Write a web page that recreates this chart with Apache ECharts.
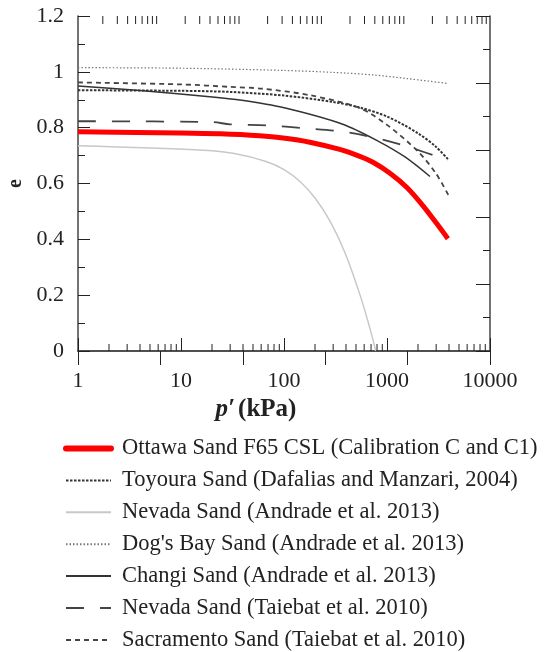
<!DOCTYPE html>
<html>
<head>
<meta charset="utf-8">
<script src="https://cdn.jsdelivr.net/npm/echarts@6/dist/echarts.min.js"></script>
<style>html,body{margin:0;padding:0;background:#fff}#c{width:545px;height:652px}</style>
</head>
<body>
<div id="c"></div>
<script>
// ---- data: [p' (kPa), e] ----
var ottawa = [[1,0.785],[10,0.781],[24,0.778],[58,0.771],[98,0.763],[178,0.748],[348,0.722],[545,0.697],[731,0.676],[1069,0.637],[1560,0.586],[2230,0.521],[3250,0.442],[3900,0.402]];
var toyoura = [[1,0.934],[10,0.932],[30,0.928],[100,0.915],[300,0.892],[545,0.872],[1000,0.84],[2000,0.78],[3000,0.731],[3950,0.685]];
var nevadaAndrade = [[1,0.735],[15,0.720],[32,0.708],[68,0.678],[102,0.648],[143,0.607],[200,0.548],[280,0.465],[391,0.352],[547,0.201],[684,0.080],[777,0.0]];
var dogsBay = [[1,1.015],[10,1.013],[100,1.005],[300,0.998],[730,0.989],[1560,0.976],[3950,0.958]];
var changi = [[1,0.949],[4,0.933],[19,0.911],[39,0.898],[98,0.872],[366,0.813],[818,0.752],[1496,0.695],[2614,0.625]];
var nevadaTaiebat = [[1,0.823],[20,0.82],[30,0.812],[70,0.808],[155,0.798],[350,0.787],[810,0.762],[1650,0.73],[3900,0.683]];
var sacramento = [[1,0.962],[10,0.955],[30,0.946],[60,0.94],[180,0.916],[545,0.87],[1000,0.81],[2000,0.715],[3000,0.635],[3950,0.558]];

var seriesNames = [
  'Ottawa Sand F65 CSL (Calibration C and C1)',
  'Toyoura Sand (Dafalias and Manzari, 2004)',
  'Nevada Sand (Andrade et al. 2013)',
  "Dog's Bay Sand (Andrade et al. 2013)",
  'Changi Sand (Andrade et al. 2013)',
  'Nevada Sand (Taiebat et al. 2010)',
  'Sacramento Sand (Taiebat et al. 2010)'
];
var xTickLabels = ['1','10','100','1000','10000'];
// minor tick values (2..9 per decade)
var bottomMinorTicks = [2,3,4,5,6,7,8,9,20,30,40,50,60,70,80,90,200,300,400,500,600,700,800,900,2000,3000,4000,5000,6000,7000,8000,9000];
var topMinorTicks = bottomMinorTicks.concat([20000,30000,40000,50000,60000,70000,80000,90000]);

var FONT = '"Liberation Serif","Times New Roman",serif';
var AX = '#444';

function tickSeries(xi, ticks, atTop) {
  return {
    type: 'custom', xAxisIndex: xi, yAxisIndex: 0, silent: true, z: 5,
    data: ticks.map(function (v) { return [v]; }),
    encode: { x: 0 },
    renderItem: function (params, api) {
      var v = api.value(0);
      var p = api.coord([v, atTop ? 1.2 : 0]);
      var L = atTop ? 8 : 7;
      return {
        type: 'line',
        shape: { x1: p[0], y1: p[1], x2: p[0], y2: atTop ? p[1] + L : p[1] - L },
        style: { stroke: '#222', lineWidth: 1 }
      };
    }
  };
}

var legendData = seriesNames.map(function (n, i) {
  return i === 0 ? { name: n, lineStyle: { width: 6, cap: 'round' } } : { name: n };
});

var chart = echarts.init(document.getElementById('c'), null, { renderer: 'canvas' });
chart.setOption({
  animation: false,
  backgroundColor: '#fff',
  textStyle: { fontFamily: FONT },
  grid: { left: 78, right: 55, top: 16, bottom: 301, containLabel: false, outerBoundsMode: 'none' },
  legend: {
    orient: 'vertical', left: 63, top: 437, height: 260, padding: 0,
    itemWidth: 45, itemHeight: 14, itemGap: 8.9,
    itemStyle: { opacity: 0 },
    data: legendData,
    textStyle: { fontFamily: FONT, fontSize: 22.5, color: '#222', padding: [0, 0, 0, 6] }
  },
  xAxis: [{
    type: 'log', logBase: 10, min: 1, max: 10000, position: 'bottom',
    axisLine: { show: true, lineStyle: { color: AX, width: 1.5 } },
    axisTick: { show: true, inside: true, length: 13, lineStyle: { color: '#222' } },
    axisLabel: { fontSize: 22, color: '#222', margin: 19, fontFamily: FONT,
      formatter: function (v) { var i = Math.round(Math.log10(v)); return xTickLabels[i]; } },
    splitLine: { show: false },
    name: '{i|p′} {b|(kPa)}', nameLocation: 'middle', nameGap: 42,
    nameTextStyle: { padding: [0, 56, 0, 0], rich: {
      i: { fontStyle: 'italic', fontWeight: 'bold', fontSize: 25, fontFamily: FONT, color: '#222' },
      b: { fontWeight: 'bold', fontSize: 25, fontFamily: FONT, color: '#222' } } }
  }, {
    type: 'log', logBase: 10, min: 1, max: 100000, position: 'top',
    axisLine: { show: true, lineStyle: { color: AX, width: 1.5 } },
    axisTick: { show: true, inside: true, length: 14, lineStyle: { color: '#222' } },
    axisLabel: { show: false }, splitLine: { show: false }
  }],
  yAxis: [{
    type: 'value', min: 0, max: 1.2, interval: 0.2, position: 'left',
    axisLine: { show: true, lineStyle: { color: AX, width: 1.5 } },
    axisTick: { show: true, inside: true, length: 12, lineStyle: { color: '#222' } },
    minorTick: { show: true, splitNumber: 2, length: 7, lineStyle: { color: '#222' } },
    axisLabel: { fontSize: 22, color: '#222', margin: 14, fontFamily: FONT },
    splitLine: { show: false },
    name: 'e', nameLocation: 'middle', nameGap: 47, nameRotate: 90,
    nameTextStyle: { fontWeight: 'bold', fontSize: 20, fontFamily: FONT, color: '#222' }
  }, {
    type: 'value', min: 0, max: 10, interval: 2, position: 'right',
    axisLine: { show: true, lineStyle: { color: AX, width: 1.5 } },
    axisTick: { show: true, inside: true, length: 14, lineStyle: { color: '#222' } },
    minorTick: { show: true, splitNumber: 2, length: 7, lineStyle: { color: '#222' } },
    axisLabel: { show: false }, splitLine: { show: false }
  }],
  series: [
    { name: seriesNames[0], type: 'line', data: ottawa, smooth: 0.3, symbol: 'none', z: 4,
      lineStyle: { color: '#ff0000', width: 5 }, itemStyle: { color: '#ff0000' } },
    { name: seriesNames[1], type: 'line', data: toyoura, smooth: 0.3, symbol: 'none',
      lineStyle: { color: '#333', width: 2, type: [2.5, 1.5] }, itemStyle: { color: '#333' } },
    { name: seriesNames[2], type: 'line', data: nevadaAndrade, smooth: 0.3, symbol: 'none',
      lineStyle: { color: '#c8c8c8', width: 1.5 }, itemStyle: { color: '#c8c8c8' } },
    { name: seriesNames[3], type: 'line', data: dogsBay, smooth: 0.3, symbol: 'none',
      lineStyle: { color: '#777', width: 1.2, type: [1.5, 2] }, itemStyle: { color: '#777' } },
    { name: seriesNames[4], type: 'line', data: changi, smooth: 0.3, symbol: 'none',
      lineStyle: { color: '#333', width: 1.5 }, itemStyle: { color: '#333' } },
    { name: seriesNames[5], type: 'line', data: nevadaTaiebat, smooth: 0.3, symbol: 'none',
      lineStyle: { color: '#444', width: 1.8, type: [18, 16] }, itemStyle: { color: '#444' } },
    { name: seriesNames[6], type: 'line', data: sacramento, smooth: 0.3, symbol: 'none',
      lineStyle: { color: '#444', width: 1.8, type: [5, 4] }, itemStyle: { color: '#444' } },
    tickSeries(0, bottomMinorTicks, false),
    tickSeries(1, topMinorTicks, true)
  ]
});
</script>
</body>
</html>
